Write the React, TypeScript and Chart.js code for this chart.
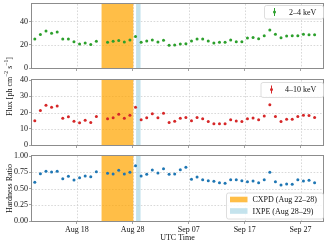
import React, { useEffect, useRef } from 'react';
import { Chart, registerables } from 'chart.js';
Chart.register(...registerables);

const W = 327;
const H = 244;
const FONT = "'Liberation Serif', 'Times New Roman', serif";

// Observation days (day-of-August numbering, midday)
const days = [
  10.5, 11.5, 12.5, 13.5, 14.5, 15.5, 16.5, 17.5, 18.5, 19.5, 20.5, 21.5,
  23.5, 24.5, 25.5, 26.5, 27.5, 28.5, 29.5, 30.5, 31.5, 32.5, 33.5, 34.5,
  35.5, 36.5, 37.5, 38.5, 39.5, 40.5, 41.5, 42.5, 43.5, 44.5, 45.5, 46.5,
  47.5, 48.5, 49.5, 50.5, 51.5, 52.5, 53.5, 54.5, 55.5, 56.5, 57.5, 58.5,
  59.5, 60.5,
];
const flux24 = [
  24.9, 28.8, 31.8, 29.9, 31.0, 24.9, 24.9, 22.6, 20.7, 21.5, 20.1, 22.9,
  22.1, 22.9, 23.7, 22.3, 24.0, 27.1, 22.1, 23.2, 24.0, 22.3, 23.8, 19.6,
  19.8, 20.7, 20.9, 23.2, 24.9, 24.9, 23.2, 21.5, 22.1, 22.1, 24.0, 22.6,
  22.6, 25.7, 26.3, 25.1, 27.7, 32.7, 29.1, 26.0, 27.4, 27.7, 27.7, 29.1,
  28.5, 28.5,
];
const flux410 = [
  15.0, 21.3, 24.4, 23.2, 24.0, 16.4, 17.4, 14.6, 13.7, 15.2, 13.9, 17.6,
  16.2, 16.8, 18.9, 16.4, 18.3, 23.2, 15.6, 16.8, 19.3, 16.8, 19.5, 13.9,
  14.6, 16.4, 17.0, 15.0, 17.0, 16.2, 14.4, 13.1, 13.1, 13.1, 15.6, 14.8,
  14.4, 16.2, 16.6, 15.6, 17.8, 24.8, 17.6, 14.4, 15.8, 15.8, 17.6, 18.3,
  18.1, 17.0,
];
const hardness = [
  0.595, 0.728, 0.764, 0.754, 0.764, 0.651, 0.687, 0.631, 0.667, 0.692, 0.682, 0.759,
  0.733, 0.723, 0.779, 0.723, 0.749, 0.851, 0.692, 0.718, 0.785, 0.738, 0.805, 0.718,
  0.723, 0.79, 0.826, 0.641, 0.677, 0.636, 0.621, 0.61, 0.59, 0.579, 0.636, 0.636,
  0.621, 0.605, 0.615, 0.59, 0.636, 0.749, 0.605, 0.554, 0.569, 0.564, 0.636, 0.615,
  0.626, 0.59,
];

const xTickValues = [18, 28, 38, 48, 58];
const xTickLabels = ['Aug 18', 'Aug 28', 'Sep 07', 'Sep 17', 'Sep 27'];
const xRange = [10, 62];
const cxpdSpan = [22.43, 28.1];
const ixpeSpan = [28.6, 29.4];

const ticks24 = [0, 20, 40];
const range24 = [0, 55];
const ticks410 = [0, 10, 20, 30, 40];
const range410 = [0, 40];
const ticksHR = [0, 0.25, 0.5, 0.75, 1.0];
const rangeHR = [0, 1];

const seriesLabels = ['2–4 keV', '4–10 keV'];
const bandLabels = ['CXPD (Aug 22–28)', 'IXPE (Aug 28–29)'];
const colors = { green: '#2ca02c', red: '#d62728', blue: '#1f77b4' };
const bandColors = ['rgba(255,165,0,0.72)', 'rgba(173,216,230,0.72)'];

const SPINE = '#8c8c8c';
const PLOT_L = 32;
const PLOT_R = 324;

type PanelSpec = {
  values: number[];
  color: string;
  yTicks: number[];
  yRange: number[];
  yFmt: (v: number) => string;
  top: number;
  bottom: number;
  showX: boolean;
  extraDraw?: (chart: any) => void;
};

function roundRect(ctx: CanvasRenderingContext2D, x: number, y: number, w: number, h: number, r: number) {
  ctx.beginPath();
  ctx.moveTo(x + r, y);
  ctx.lineTo(x + w - r, y);
  ctx.quadraticCurveTo(x + w, y, x + w, y + r);
  ctx.lineTo(x + w, y + h - r);
  ctx.quadraticCurveTo(x + w, y + h, x + w - r, y + h);
  ctx.lineTo(x + r, y + h);
  ctx.quadraticCurveTo(x, y + h, x, y + h - r);
  ctx.lineTo(x, y + r);
  ctx.quadraticCurveTo(x, y, x + r, y);
  ctx.closePath();
}

function legendBox(ctx: CanvasRenderingContext2D, x0: number, y0: number, x1: number, y1: number) {
  ctx.save();
  roundRect(ctx, x0 + 0.5, y0 + 0.5, x1 - x0, y1 - y0, 2);
  ctx.fillStyle = 'rgba(255,255,255,0.85)';
  ctx.fill();
  ctx.strokeStyle = '#d5d5d5';
  ctx.lineWidth = 0.8;
  ctx.stroke();
  ctx.restore();
}

function errLegend(ctx: CanvasRenderingContext2D, mx: number, my: number, color: string, text: string, tx: number) {
  ctx.save();
  ctx.strokeStyle = color;
  ctx.lineWidth = 1;
  ctx.beginPath();
  ctx.moveTo(mx, my - 4);
  ctx.lineTo(mx, my + 4);
  ctx.stroke();
  ctx.fillStyle = color;
  ctx.beginPath();
  ctx.arc(mx, my, 1.5, 0, Math.PI * 2);
  ctx.fill();
  ctx.fillStyle = '#111';
  ctx.font = `8px ${FONT}`;
  ctx.textBaseline = 'middle';
  ctx.textAlign = 'left';
  ctx.fillText(text, tx, my + 0.5);
  ctx.restore();
}

function makePanel(canvas: HTMLCanvasElement, spec: PanelSpec) {
  const xAxisH = spec.showX ? 14 : 4;
  const panelPlugin = {
    id: 'panelDecor',
    beforeDatasetsDraw(chart: any) {
      const { ctx, chartArea, scales } = chart;
      const { left, right, top, bottom } = chartArea;
      ctx.save();
      ctx.strokeStyle = '#cfcfcf';
      ctx.lineWidth = 0.8;
      ctx.setLineDash([1.6, 1.6]);
      xTickValues.forEach((v) => {
        const px = Math.round(scales.x.getPixelForValue(v)) + 0.5;
        ctx.beginPath();
        ctx.moveTo(px, top);
        ctx.lineTo(px, bottom);
        ctx.stroke();
      });
      spec.yTicks.forEach((v) => {
        const py = Math.round(scales.y.getPixelForValue(v)) + 0.5;
        if (py <= top + 1 || py >= bottom - 1) return;
        ctx.beginPath();
        ctx.moveTo(left, py);
        ctx.lineTo(right, py);
        ctx.stroke();
      });
      ctx.setLineDash([]);
      [cxpdSpan, ixpeSpan].forEach((s, i) => {
        const a = scales.x.getPixelForValue(s[0]);
        const b = scales.x.getPixelForValue(s[1]);
        ctx.fillStyle = bandColors[i];
        ctx.fillRect(a, top, b - a, bottom - top);
      });
      ctx.restore();
    },
    afterDatasetsDraw(chart: any) {
      const { ctx, chartArea } = chart;
      const { left, right, top, bottom } = chartArea;
      ctx.save();
      ctx.strokeStyle = SPINE;
      ctx.lineWidth = 1;
      ctx.strokeRect(left - 0.5, top - 0.5, right - left + 1, bottom - top + 1);
      ctx.restore();
    },
    afterDraw(chart: any) {
      if (spec.extraDraw) spec.extraDraw(chart);
    },
  };

  return new Chart(canvas, {
    type: 'scatter',
    data: {
      datasets: [
        {
          data: days.map((d, i) => ({ x: d, y: spec.values[i] })),
          backgroundColor: spec.color,
          borderWidth: 0,
          pointRadius: 1.5,
          showLine: false,
        },
      ],
    },
    plugins: [panelPlugin],
    options: {
      animation: false,
      responsive: false,
      devicePixelRatio: 1,
      events: [],
      layout: {
        padding: { left: 0, right: W - PLOT_R, top: spec.top, bottom: H - spec.bottom - xAxisH },
      },
      plugins: { legend: { display: false }, tooltip: { enabled: false }, title: { display: false } },
      scales: {
        x: {
          type: 'linear',
          min: xRange[0],
          max: xRange[1],
          afterBuildTicks: (scale: any) => {
            scale.ticks = xTickValues.map((v) => ({ value: v }));
          },
          afterFit: (scale: any) => {
            scale.height = xAxisH;
            scale.paddingLeft = 0;
            scale.paddingRight = 0;
          },
          grid: {
            display: true,
            drawOnChartArea: false,
            drawTicks: true,
            tickLength: 3,
            tickColor: SPINE,
            tickWidth: 0.8,
          },
          border: { display: false },
          ticks: {
            display: spec.showX,
            autoSkip: false,
            maxRotation: 0,
            padding: 1,
            color: '#111',
            font: { family: FONT, size: 8 },
            callback: (v: any) => {
              const i = xTickValues.indexOf(Number(v));
              return i >= 0 ? xTickLabels[i] : '';
            },
          },
        },
        y: {
          type: 'linear',
          min: spec.yRange[0],
          max: spec.yRange[1],
          afterBuildTicks: (scale: any) => {
            scale.ticks = spec.yTicks.map((v) => ({ value: v }));
          },
          afterFit: (scale: any) => {
            scale.width = PLOT_L;
            scale.paddingTop = 0;
            scale.paddingBottom = 0;
          },
          grid: {
            display: true,
            drawOnChartArea: false,
            drawTicks: true,
            tickLength: 3,
            tickColor: SPINE,
            tickWidth: 0.8,
          },
          border: { display: false },
          ticks: {
            autoSkip: false,
            padding: 1,
            color: '#111',
            font: { family: FONT, size: 8 },
            callback: (v: any) => spec.yFmt(Number(v)),
          },
        },
      },
    } as any,
  });
}

function drawRotated(ctx: CanvasRenderingContext2D, cx: number, cy: number, parts: { t: string; sup?: boolean }[]) {
  ctx.save();
  ctx.translate(cx, cy);
  ctx.rotate(-Math.PI / 2);
  ctx.fillStyle = '#111';
  ctx.textBaseline = 'alphabetic';
  ctx.textAlign = 'left';
  const widths = parts.map((p) => {
    ctx.font = `${p.sup ? 5.6 : 8}px ${FONT}`;
    return ctx.measureText(p.t).width;
  });
  const total = widths.reduce((a, b) => a + b, 0);
  let x = -total / 2;
  parts.forEach((p, i) => {
    ctx.font = `${p.sup ? 5.6 : 8}px ${FONT}`;
    ctx.fillText(p.t, x, p.sup ? -0.5 : 3);
    x += widths[i];
  });
  ctx.restore();
}

export default function App() {
  const c1 = useRef<HTMLCanvasElement>(null);
  const c2 = useRef<HTMLCanvasElement>(null);
  const c3 = useRef<HTMLCanvasElement>(null);

  useEffect(() => {
    const charts: Chart[] = [];
    charts.push(
      makePanel(c1.current!, {
        values: flux24,
        color: colors.green,
        yTicks: ticks24,
        yRange: range24,
        yFmt: (v) => String(v),
        top: 3,
        bottom: 68,
        showX: false,
        extraDraw: (chart) => {
          const ctx = chart.ctx;
          legendBox(ctx, 264, 5, 323, 18.5);
          errLegend(ctx, 274.5, 12, colors.green, seriesLabels[0], 289);
        },
      })
    );
    charts.push(
      makePanel(c2.current!, {
        values: flux410,
        color: colors.red,
        yTicks: ticks410,
        yRange: range410,
        yFmt: (v) => String(v),
        top: 80,
        bottom: 145,
        showX: false,
        extraDraw: (chart) => {
          const ctx = chart.ctx;
          legendBox(ctx, 260.5, 82, 323, 97);
          errLegend(ctx, 271.5, 89.5, colors.red, seriesLabels[1], 285);
          drawRotated(ctx, 8.5, 86.5, [
            { t: 'Flux [ph cm' },
            { t: '−2', sup: true },
            { t: ' s' },
            { t: '−1', sup: true },
            { t: ']' },
          ]);
        },
      })
    );
    charts.push(
      makePanel(c3.current!, {
        values: hardness,
        color: colors.blue,
        yTicks: ticksHR,
        yRange: rangeHR,
        yFmt: (v) => v.toFixed(2),
        top: 156,
        bottom: 221,
        showX: true,
        extraDraw: (chart) => {
          const ctx = chart.ctx;
          legendBox(ctx, 226, 192.5, 323, 218.5);
          const rows = [199.5, 211];
          bandLabels.forEach((lab, i) => {
            ctx.save();
            ctx.fillStyle = bandColors[i];
            ctx.fillRect(230, rows[i] - 2.8, 17.5, 5.6);
            ctx.fillStyle = '#111';
            ctx.font = `8px ${FONT}`;
            ctx.textBaseline = 'middle';
            ctx.textAlign = 'left';
            ctx.fillText(lab, 252.5, rows[i] + 0.5);
            ctx.restore();
          });
          drawRotated(ctx, 8.5, 188.5, [{ t: 'Hardness Ratio' }]);
          ctx.save();
          ctx.fillStyle = '#111';
          ctx.font = `8px ${FONT}`;
          ctx.textAlign = 'center';
          ctx.textBaseline = 'middle';
          ctx.fillText('UTC Time', (chart.chartArea.left + chart.chartArea.right) / 2, 237.5);
          ctx.restore();
        },
      })
    );
    return () => charts.forEach((c) => c.destroy());
  }, []);

  const cs: React.CSSProperties = { position: 'absolute', left: 0, top: 0, width: W, height: H };
  return (
    <div style={{ position: 'fixed', left: 0, top: 0, width: W, height: H, background: '#fff' }}>
      <canvas ref={c1} width={W} height={H} style={cs} />
      <canvas ref={c2} width={W} height={H} style={cs} />
      <canvas ref={c3} width={W} height={H} style={cs} />
    </div>
  );
}
